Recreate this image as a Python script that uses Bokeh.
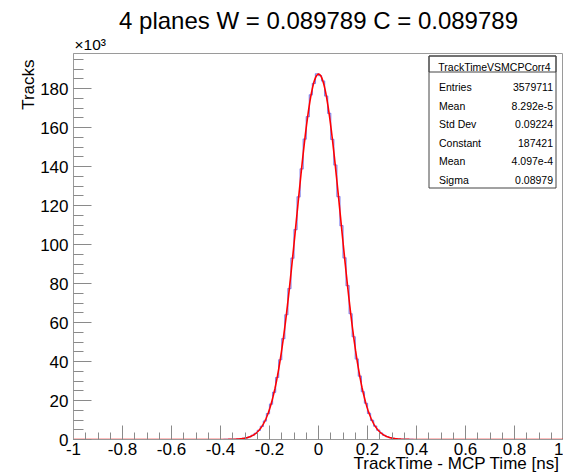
import numpy as np
from bokeh.plotting import figure
from bokeh.models import (Range1d, Label, BoxAnnotation, SingleIntervalTicker,
                          CustomJSTickFormatter, Title)
from bokeh.embed import file_html
from bokeh.resources import INLINE

# ---------------- data ----------------
title_text = "4 planes W = 0.089789 C = 0.089789"
x_title = "TrackTime - MCP Time [ns]"
y_title = "Tracks"
y_multiplier = "\u00d710\u00b3"

hist_range = [-1.0, 1.0]
hist_nbins = 160
# non-empty bins start at this edge (counts in units of 10^3 tracks)
hist_first_edge = -0.4
hist_counts_k = [
    0.01, 0.02, 0.04, 0.07, 0.12, 0.20, 0.34, 0.55, 0.88, 1.37, 2.10, 3.15,
    4.65, 6.7, 9.5, 13.3, 18.1, 24.2, 31.8, 40.9, 51.7, 64.0, 77.4, 93.0,
    107.7, 124.5, 138.8, 154.1, 165.6, 176.8, 182.7, 187.6,
    186.6, 183.9, 176.2, 167.3, 153.9, 140.8, 124.6, 109.7, 93.2, 78.9,
    64.5, 52.7, 41.3, 32.5, 24.5, 18.6, 13.4, 9.8, 6.9, 4.8, 3.24, 2.16,
    1.41, 0.90, 0.57, 0.35, 0.21, 0.13, 0.07, 0.04, 0.02, 0.01,
]

fit_constant = 187421.0
fit_mean = 4.097e-4
fit_sigma = 0.08979

stats_name = "TrackTimeVSMCPCorr4"
stats_labels = ["Entries", "Mean", "Std Dev", "Constant", "Mean", "Sigma"]
stats_values = ["3579711", "8.292e-5", "0.09224", "187421", "4.097e-4", "0.08979"]

x_tick_step = 0.2
y_tick_step = 20

# ---------------- figure ----------------
FONT = "Liberation Sans"
W, H = 563, 474
FL, FR, FT, FB = 73, 563, 53, 439
x0, x1 = -1.0, 1.0
y0, y1 = 0.0, 198.0

def xd(px):
    return x0 + (px - FL) * (x1 - x0) / (FR - FL)

def yd(py):
    return y0 + (FB - py) * (y1 - y0) / (FB - FT)

p = figure(width=W, height=H, x_range=Range1d(x0, x1), y_range=Range1d(y0, y1),
           output_backend="svg", toolbar_location=None,
           min_border_left=FL, min_border_right=W - FR,
           min_border_top=FT, min_border_bottom=H - FB)
p.xgrid.grid_line_color = None
p.ygrid.grid_line_color = None
p.background_fill_color = "white"
p.border_fill_color = "white"
p.outline_line_color = "#9a9a9a"
p.outline_line_width = 1

# main title
p.title.text = title_text
p.title.align = "center"
p.title.text_font = FONT
p.title.text_font_size = "24px"
p.title.text_font_style = "normal"
p.title.text_color = "black"
p.title.standoff = 0

# x10^3 multiplier above the y axis
p.add_layout(Title(text=y_multiplier, align="left", offset=1, standoff=1,
                   text_font=FONT, text_font_size="15.5px",
                   text_font_style="normal", text_color="black"), "above")

# histogram steps
edges = np.linspace(hist_range[0], hist_range[1], hist_nbins + 1)
bw = (hist_range[1] - hist_range[0]) / hist_nbins
vals = np.zeros(hist_nbins)
start = int(round((hist_first_edge - hist_range[0]) / bw))
vals[start:start + len(hist_counts_k)] = hist_counts_k
ys = np.append(vals, vals[-1])
p.step(x=edges, y=ys, mode="after", line_color="#8585ee", line_width=1.2)

# fit function from the fit parameters
fx = np.linspace(hist_range[0], hist_range[1], 1601)
fy = fit_constant * np.exp(-0.5 * ((fx - fit_mean) / fit_sigma) ** 2) / 1000.0
p.line(fx, fy, line_color="#ff0000", line_width=1.6)

# axes
fmt = CustomJSTickFormatter(code="return String(Number(tick.toFixed(3)));")
for ax, step, tin, tmin in ((p.xaxis[0], x_tick_step, 14, 7), (p.yaxis[0], y_tick_step, 18, 10)):
    ax.ticker = SingleIntervalTicker(interval=step, num_minor_ticks=4)
    ax.formatter = fmt
    ax.axis_line_color = "#9a9a9a"
    ax.major_tick_line_color = "#8a8a8a"
    ax.minor_tick_line_color = "#8a8a8a"
    ax.major_tick_in = tin
    ax.major_tick_out = 0
    ax.minor_tick_in = tmin
    ax.minor_tick_out = 0
    ax.major_label_text_font = FONT
    ax.major_label_text_font_size = "17px"
    ax.major_label_text_color = "black"
p.xaxis[0].major_label_standoff = 3
p.yaxis[0].major_label_standoff = 5

# axis titles (ROOT puts them at the axis ends)
p.add_layout(Title(text=x_title, align="right", vertical_align="middle",
                   offset=4, standoff=-10, text_font=FONT, text_font_size="17px",
                   text_font_style="normal", text_color="black"), "below")
p.add_layout(Title(text=y_title, align="right", vertical_align="bottom",
                   offset=6, standoff=0, text_font=FONT, text_font_size="17px",
                   text_font_style="normal", text_color="black"), "left")

# stats box
bl, br, bt, bb, bsep = 428.5, 555.5, 55.5, 187.5, 71.5
p.add_layout(BoxAnnotation(left=xd(bl), right=xd(br), top=yd(bt), bottom=yd(bb),
                           fill_color="white", fill_alpha=1.0,
                           line_color="#444444", line_width=1, line_alpha=1.0))
p.add_layout(BoxAnnotation(left=xd(bl), right=xd(br), top=yd(bt), bottom=yd(bsep),
                           fill_color="white", fill_alpha=0.0,
                           line_color="#444444", line_width=1, line_alpha=1.0))
p.add_layout(Label(x=xd(494), y=yd(66.5), text=stats_name, text_font=FONT,
                   text_font_size="10.5px", text_align="center",
                   text_baseline="alphabetic", text_color="black"))
row0, drow = 86.5, 18.5
for i, (lab, val) in enumerate(zip(stats_labels, stats_values)):
    yy = yd(row0 + i * drow)
    p.add_layout(Label(x=xd(438.5), y=yy, text=lab, text_font=FONT,
                       text_font_size="10.5px", text_align="left",
                       text_baseline="alphabetic", text_color="black"))
    p.add_layout(Label(x=xd(552.5), y=yy, text=val, text_font=FONT,
                       text_font_size="10.5px", text_align="right",
                       text_baseline="alphabetic", text_color="black"))

open("out.html", "w").write(file_html(p, INLINE))
